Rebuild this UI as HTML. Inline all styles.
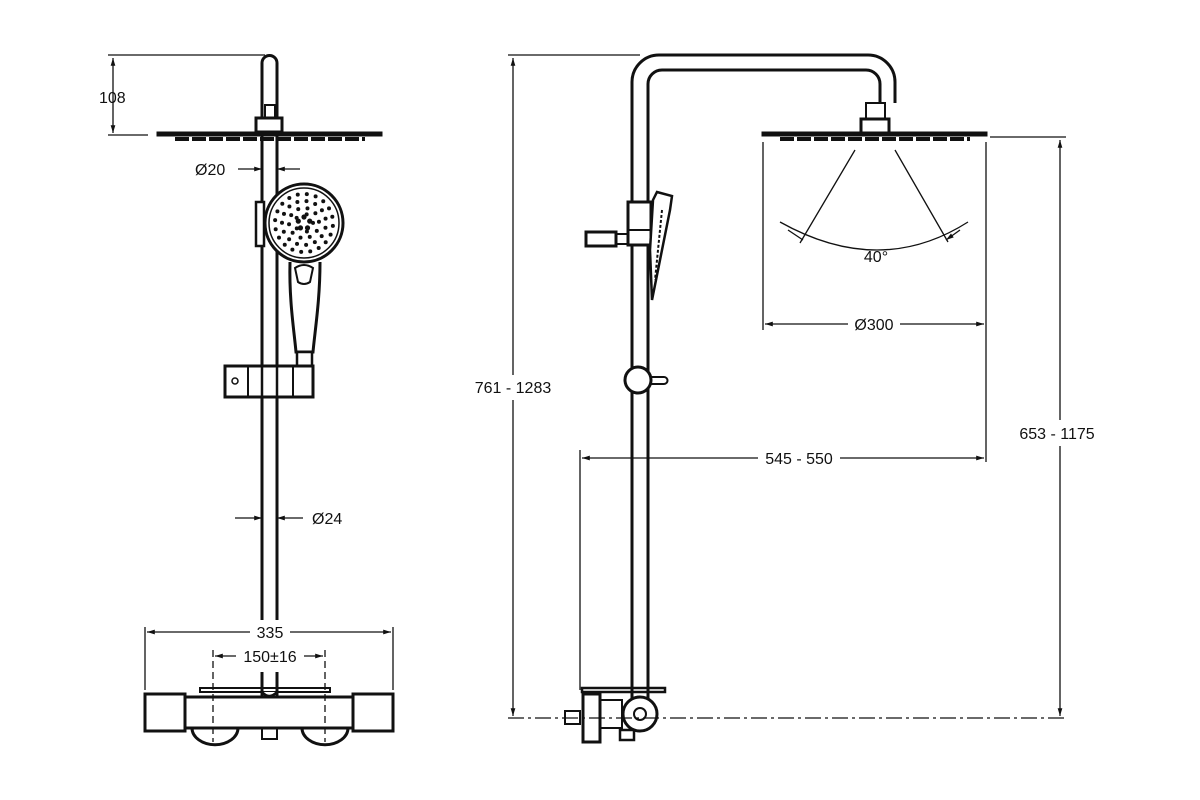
<!DOCTYPE html>
<html><head><meta charset="utf-8"><style>
html,body{margin:0;padding:0;background:#fff;}
svg{display:block;}
text{font-family:"Liberation Sans",sans-serif;font-size:16px;fill:#111;}
</style></head><body>
<svg id="s" width="1200" height="800" viewBox="0 0 1200 800" xmlns="http://www.w3.org/2000/svg">
<defs>
<marker id="a" viewBox="0 0 10 10" refX="10" refY="5" markerWidth="9" markerHeight="6" orient="auto-start-reverse"><path d="M0,2 L10,5 L0,8 z" fill="#111"/></marker>
</defs>
<g stroke="#111" fill="none" stroke-width="3">
<!-- LEFT VIEW -->
<path d="M262,700 V63 A7.5,7.5 0 0 1 277,63 V700"/>
<rect x="265" y="105" width="10" height="13" stroke-width="2"/>
<rect x="256" y="118" width="26" height="14" fill="#fff"/>
<rect x="157" y="132" width="225" height="4" fill="#111" stroke-width="1"/>
<path d="M175,139 H365" stroke-width="4" stroke-dasharray="14,3"/>
<!-- hand shower -->
<rect x="256" y="202" width="8" height="44" stroke-width="2.5" fill="#fff"/>
<path d="M290,262 C289,300 294,330 296,352 H313 C315,330 320,300 320,262" fill="#fff"/>
<rect x="297" y="352" width="15" height="14" stroke-width="2.5" fill="#fff"/>
<circle cx="304" cy="223" r="39" fill="#fff"/>
<circle cx="304" cy="223" r="35" stroke-width="1.5"/>
<path d="M295,268 Q304,262 313,268 L310,282 Q304,286 298,282 Z" stroke-width="2"/>
<!-- slider -->
<rect x="225" y="366" width="88" height="31" fill="#fff"/>
<path d="M248,366 V397 M293,366 V397" stroke-width="2"/>
<circle cx="235" cy="381" r="3" stroke-width="1.5"/>
<path d="M262,366 V397 M277,366 V397" stroke-width="2.5"/>
<!-- thermostat left -->
<rect x="200" y="688" width="130" height="4" stroke-width="2"/>
<path d="M185,697 H353 V728 H185 Z" fill="#fff"/>
<rect x="145" y="694" width="40" height="37" fill="#fff"/>
<rect x="353" y="694" width="40" height="37" fill="#fff"/>
<path d="M192,728 A22,16 0 0 0 238,728 M302,728 A22,16 0 0 0 348,728"/>
<rect x="262" y="728" width="15" height="11" stroke-width="2"/>
<path d="M262,692 Q269,700 277,692" stroke-width="2.5" fill="#fff"/>

<!-- RIGHT VIEW -->
<path d="M632,700 V82 A27,27 0 0 1 659,55 H868 A27,27 0 0 1 895,82 V103"/>
<path d="M648,700 V84 A14,14 0 0 1 662,70 H866 A14,14 0 0 1 880,84 V103"/>
<rect x="866" y="103" width="19" height="17" stroke-width="2"/>
<rect x="861" y="119" width="28" height="14" fill="#fff"/>
<rect x="762" y="132" width="225" height="4" fill="#111" stroke-width="1"/>
<path d="M780,139 H970" stroke-width="4" stroke-dasharray="14,3"/>
<rect x="628" y="202" width="23" height="43" fill="#fff"/>
<path d="M628,230 H651" stroke-width="2"/>
<rect x="586" y="232" width="30" height="14" fill="#fff"/>
<rect x="616" y="234" width="12" height="10" stroke-width="2"/>
<path d="M653,200 L657,192 L672,196 L670,210 L660,260 L652,300 L650,250 Z" fill="#fff" stroke-width="2.5"/>
<path d="M662,210 L655,280" stroke-width="2" stroke-dasharray="3,2"/>
<circle cx="638" cy="380" r="13" fill="#fff"/>
<path d="M651,377 H664 A3,3 0 0 1 664,384 H651" stroke-width="2"/>
<!-- thermostat right -->
<rect x="582" y="688" width="83" height="4" stroke-width="2.5"/>
<rect x="583" y="694" width="17" height="48" fill="#fff"/>
<rect x="565" y="711" width="15" height="13" stroke-width="2"/>
<rect x="600" y="700" width="22" height="28" stroke-width="2"/>
<circle cx="640" cy="714" r="17" fill="#fff"/>
<circle cx="640" cy="714" r="6" stroke-width="2"/>
<rect x="620" y="730" width="14" height="10" stroke-width="2.5"/>

<!-- spray -->
<g stroke-width="1.3">
<path d="M855,150 L800,243 M895,150 L948,242"/>
<path d="M780,222 Q880,278 968,222"/>
</g>
</g>

<!-- DIMENSIONS -->
<g stroke="#111" stroke-width="1.3" fill="none">
<path d="M108,55 H265 M108,135 H148"/>
<path d="M113,58 V133" marker-start="url(#a)" marker-end="url(#a)"/>
<path d="M238,169 H262" marker-end="url(#a)"/><path d="M300,169 H277" marker-end="url(#a)"/>
<path d="M235,518 H262" marker-end="url(#a)"/><path d="M303,518 H277" marker-end="url(#a)"/>
</g>
<rect x="240" y="620" width="60" height="52" fill="#fff"/>
<g stroke="#111" stroke-width="1.3" fill="none">
<path d="M145,627 V690 M393,627 V690"/>
<path d="M147,632 H250 M290,632 H391" marker-start="url(#a)" marker-end="url(#a)"/>
<path d="M213,650 V742 M325,650 V742" stroke-dasharray="7,4"/>
<path d="M215,656 H236 M304,656 H323" marker-start="url(#a)" marker-end="url(#a)"/>
<!-- right -->
<path d="M508,55 H640"/>
<path d="M513,58 V375 M513,400 V716" marker-start="url(#a)" marker-end="url(#a)"/>
<path d="M508,718 H1066" stroke-dasharray="16,4,3,4"/>
<path d="M990,137 H1066"/>
<path d="M1060,140 V420 M1060,446 V716" marker-start="url(#a)" marker-end="url(#a)"/>
<path d="M763,142 V330 M986,142 V462"/>
<path d="M765,324 H848 M900,324 H984" marker-start="url(#a)" marker-end="url(#a)"/>
<path d="M580,450 V690"/>
<path d="M582,458 H758 M840,458 H984" marker-start="url(#a)" marker-end="url(#a)"/>
<path d="M788,230 L803,240 M960,230 L946,240" marker-end="url(#a)"/>
</g>
<g>
<text x="99" y="103">108</text>
<text x="195" y="175">Ø20</text>
<text x="312" y="524">Ø24</text>
<text x="270" y="638" text-anchor="middle">335</text>
<text x="270" y="662" text-anchor="middle">150±16</text>
<text x="513" y="393" text-anchor="middle">761 - 1283</text>
<text x="1057" y="439" text-anchor="middle">653 - 1175</text>
<text x="799" y="464" text-anchor="middle">545 - 550</text>
<text x="874" y="330" text-anchor="middle">Ø300</text>
<text x="876" y="262" text-anchor="middle">40°</text>
</g>
<g id="dots" fill="#111"></g>
</svg>
<script>
var g=document.getElementById('dots'),ns='http://www.w3.org/2000/svg';
function d(x,y,r){var c=document.createElementNS(ns,'circle');c.setAttribute('cx',x);c.setAttribute('cy',y);c.setAttribute('r',r);g.appendChild(c);}
var cx=304,cy=223;
[[29,20],[22,15],[15,10]].forEach(function(p){for(var i=0;i<p[1];i++){var t=i*2*Math.PI/p[1]+p[0];d(cx+p[0]*Math.cos(t),cy+p[0]*Math.sin(t),2);}});
for(var i=0;i<5;i++){var t=i*2*Math.PI/5-Math.PI/2;d(cx+6*Math.cos(t),cy+6*Math.sin(t),2.6);d(cx+9*Math.cos(t+0.3),cy+9*Math.sin(t+0.3),2);}
</script>
</body></html>
